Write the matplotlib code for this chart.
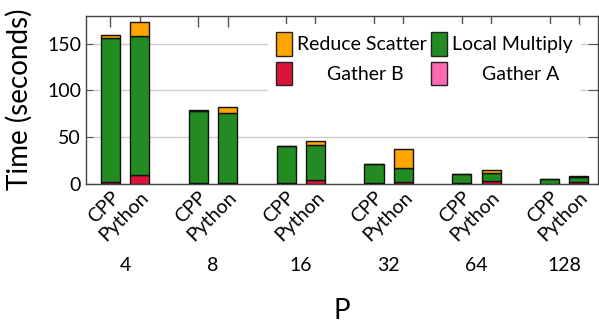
import matplotlib
matplotlib.use("Agg")
import matplotlib.pyplot as plt
from matplotlib.patches import Patch
import numpy as np

plt.rcParams["font.family"] = ["Lato", "DejaVu Sans"]

procs = ["4", "8", "16", "32", "64", "128"]
impls = ["CPP", "Python"]

# values per (proc, impl) flattened: CPP, Python for each P
gather_a = [0.5, 0.5, 0.3, 0.5, 0.3, 0.5, 0.2, 0.5, 0.2, 0.5, 0.2, 0.3]
gather_b = [1.5, 9.5, 0.5, 1.0, 0.5, 3.5, 0.5, 2.0, 0.5, 2.5, 0.3, 1.5]
local_mult = [153.5, 148.5, 77.7, 74.5, 39.5, 38.0, 20.5, 14.3, 9.8, 8.6, 5.0, 5.5]
reduce_scat = [4.0, 14.5, 0.7, 6.0, 0.3, 3.6, 0.2, 21.0, 0.2, 3.6, 0.2, 1.7]

colors = {"Gather A": "#FF69B4", "Gather B": "#DC143C",
          "Local Multiply": "#228B22", "Reduce Scatter": "#FFA500"}

fig = plt.figure(figsize=(5.99, 3.25), dpi=100)
ax = fig.add_axes([86/599, 1-184/325, (598-86)/599, (184-15.5)/325])

pos = []
for i in range(len(procs)):
    pos += [3*i, 3*i+1]
pos = np.array(pos, dtype=float)
w = 0.65

bottom = np.zeros(len(pos))
for name, vals in [("Gather A", gather_a), ("Gather B", gather_b),
                   ("Local Multiply", local_mult), ("Reduce Scatter", reduce_scat)]:
    v = np.array(vals)
    ax.bar(pos, v, w, bottom=bottom, color=colors[name], edgecolor="#111111",
           linewidth=1.0, zorder=3)
    bottom += v

ax.set_xlim(-0.835, 16.65)
ax.set_ylim(0, 180)
ax.set_yticks([0, 50, 100, 150])
ax.yaxis.grid(True, color="#cccccc", linewidth=1.0, zorder=0)
ax.set_axisbelow(True)

ax.set_xticks(pos)
ax.set_xticklabels(impls * len(procs), rotation=45, ha="right", va="top",
                   rotation_mode="anchor", fontsize=14)
ax.tick_params(axis="x", which="both", direction="in", length=8, width=1.0,
               pad=3, top=True, labeltop=False, color="#555555")
for t in ax.xaxis.get_major_ticks():
    t.tick1line.set_visible(False)
ax.tick_params(axis="y", direction="in", length=5, right=True, labelsize=14,
               color="#555555")
for t in ax.yaxis.get_major_ticks():
    t.tick2line.set_markersize(7)
for s in ax.spines.values():
    s.set_color("#444444")
    s.set_linewidth(1.0)

for i, p in enumerate(procs):
    ax.text(3*i + 0.5, -0.485, p, transform=ax.get_xaxis_transform(),
            ha="center", va="center", fontsize=14)

ax.set_ylabel("Time (seconds)", fontsize=20)
ax.yaxis.set_label_coords(-0.105, 0.5)
fig.text((86+598)/2/599, 1-311/325, "P", ha="center", va="center", fontsize=20)

handles = [Patch(facecolor=colors["Reduce Scatter"], edgecolor="#222222"),
           Patch(facecolor=colors["Gather B"], edgecolor="#222222"),
           Patch(facecolor=colors["Local Multiply"], edgecolor="#222222"),
           Patch(facecolor=colors["Gather A"], edgecolor="#222222")]
labels = ["Reduce Scatter", "      Gather B", "Local Multiply", "      Gather A"]
leg = ax.legend(handles, labels, ncol=2, loc="upper right",
                bbox_to_anchor=(0.985, 1.005), frameon=True, fontsize=14,
                handlelength=0.85, handleheight=1.5, handletextpad=0.25,
                columnspacing=0.2, labelspacing=0.3, borderpad=0.4)
leg.get_frame().set_edgecolor("none")
leg.get_frame().set_facecolor("white")
leg.get_frame().set_alpha(1.0)
leg.set_zorder(5)

fig.savefig("out.png", dpi=100)
